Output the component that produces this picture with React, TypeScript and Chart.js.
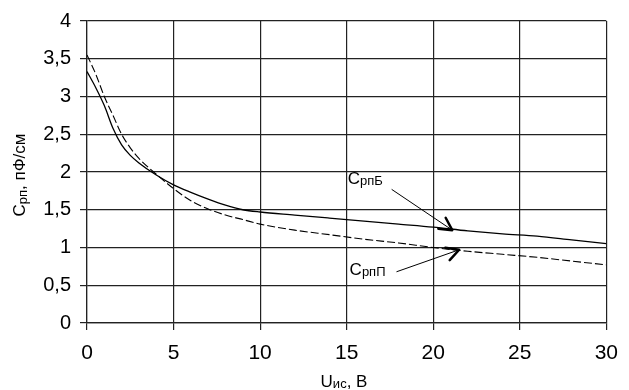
import React, { useEffect, useRef } from "react";
import { Chart, registerables } from "chart.js";

Chart.register(...registerables);

// Voltage U_ис, В
const uValues = [0, 0.5, 1, 1.5, 2, 2.5, 3, 4, 5, 6, 7, 8, 9, 10, 12, 14, 16, 18, 20, 22, 24, 26, 28, 30];
// С_рпБ (solid)
const cB = [3.33, 3.12, 2.88, 2.58, 2.36, 2.22, 2.12, 1.96, 1.83, 1.73, 1.64, 1.56, 1.5, 1.47, 1.43, 1.39, 1.35, 1.31, 1.27, 1.22, 1.18, 1.15, 1.1, 1.05];
// С_рпП (dashed)
const cP = [3.55, 3.3, 3.0, 2.75, 2.5, 2.32, 2.18, 1.97, 1.78, 1.62, 1.51, 1.43, 1.37, 1.31, 1.23, 1.17, 1.11, 1.06, 1.0, 0.95, 0.91, 0.87, 0.82, 0.77];

const xTicks = [0, 5, 10, 15, 20, 25, 30];
const yTicks = [0, 0.5, 1, 1.5, 2, 2.5, 3, 3.5, 4];

// Annotations
const annoLabels = ["С", "С"];
const annoSubs = ["рпБ", "рпП"];
const annoTextPos = [[15.06, 1.84], [15.17, 0.63]];
const annoLineFrom = [[17.6, 1.77], [17.9, 0.68]];
const annoTip = [[21.1, 1.23], [21.5, 0.97]];

const FONT = "'Liberation Sans', Arial, sans-serif";

const titlesPlugin = {
  id: "titlesAndNotes",
  afterDraw(chart: any) {
    const ctx = chart.ctx as CanvasRenderingContext2D;
    const xs = chart.scales.x;
    const ys = chart.scales.y;
    ctx.save();
    ctx.fillStyle = "#000";
    ctx.textBaseline = "alphabetic";

    // Y title rotated
    const parts: [string, number, number][] = [
      ["С", 17, 0],
      ["рп", 13, 2],
      [", пФ/см", 17, 0],
    ];
    let total = 0;
    parts.forEach(([t, s]) => {
      ctx.font = `${s}px ${FONT}`;
      total += ctx.measureText(t).width;
    });
    ctx.save();
    ctx.translate(25, 175);
    ctx.rotate(-Math.PI / 2);
    let cx = -total / 2;
    parts.forEach(([t, s, dy]) => {
      ctx.font = `${s}px ${FONT}`;
      ctx.fillText(t, cx, dy);
      cx += ctx.measureText(t).width;
    });
    ctx.restore();

    // X title
    const xparts: [string, number, number][] = [
      ["U", 17, 0],
      ["ис", 13, 1],
      [", В", 17, 0],
    ];
    total = 0;
    xparts.forEach(([t, s]) => {
      ctx.font = `${s}px ${FONT}`;
      total += ctx.measureText(t).width;
    });
    cx = 344 - total / 2;
    xparts.forEach(([t, s, dy]) => {
      ctx.font = `${s}px ${FONT}`;
      ctx.fillText(t, cx, 387 + dy);
      cx += ctx.measureText(t).width;
    });

    // Annotations
    for (let i = 0; i < annoLabels.length; i++) {
      const lx = xs.getPixelForValue(annoTextPos[i][0]);
      const ly = ys.getPixelForValue(annoTextPos[i][1]);
      ctx.font = `17px ${FONT}`;
      ctx.fillText(annoLabels[i], lx, ly);
      const w = ctx.measureText(annoLabels[i]).width;
      ctx.font = `13px ${FONT}`;
      ctx.fillText(annoSubs[i], lx + w, ly + 1);

      const fx = xs.getPixelForValue(annoLineFrom[i][0]);
      const fy = ys.getPixelForValue(annoLineFrom[i][1]);
      const tx = xs.getPixelForValue(annoTip[i][0]);
      const ty = ys.getPixelForValue(annoTip[i][1]);
      ctx.strokeStyle = "#000";
      ctx.lineWidth = 1;
      ctx.beginPath();
      ctx.moveTo(fx, fy);
      ctx.lineTo(tx, ty);
      ctx.stroke();
      const ang = Math.atan2(fy - ty, fx - tx);
      const L = 14;
      const spread = (28 * Math.PI) / 180;
      ctx.lineWidth = 2.5;
      ctx.lineCap = "round";
      ctx.lineJoin = "round";
      ctx.beginPath();
      ctx.moveTo(tx + L * Math.cos(ang + spread), ty + L * Math.sin(ang + spread));
      ctx.lineTo(tx, ty);
      ctx.lineTo(tx + L * Math.cos(ang - spread), ty + L * Math.sin(ang - spread));
      ctx.stroke();
    }
    ctx.restore();
  },
};

export default function App() {
  const ref = useRef<HTMLCanvasElement | null>(null);
  useEffect(() => {
    if (!ref.current) return;
    const chart = new Chart(ref.current, {
      type: "line",
      data: {
        datasets: [
          {
            label: "СрпБ",
            data: uValues.map((u, i) => ({ x: u, y: cB[i] })),
            borderColor: "#000",
            borderWidth: 1.3,
            pointRadius: 0,
            cubicInterpolationMode: "monotone",
            fill: false,
          },
          {
            label: "СрпП",
            data: uValues.map((u, i) => ({ x: u, y: cP[i] })),
            borderColor: "#000",
            borderWidth: 1.1,
            borderDash: [8, 3],
            pointRadius: 0,
            cubicInterpolationMode: "monotone",
            fill: false,
          },
        ],
      },
      options: {
        responsive: false,
        animation: false,
        layout: { padding: { top: 18, right: 22, left: 0, bottom: 0 } },
        plugins: { legend: { display: false }, tooltip: { enabled: false } },
        scales: {
          x: {
            type: "linear",
            min: 0,
            max: 30,
            afterBuildTicks: (s: any) => {
              s.ticks = xTicks.map((v) => ({ value: v }));
            },
            afterFit: (s: any) => {
              s.height = 67;
            },
            ticks: { color: "#000", font: { family: FONT, size: 21 }, padding: 11, maxRotation: 0 },
            grid: { color: "#222", lineWidth: 1.2, tickLength: 7 },
            border: { color: "#222", width: 1.2 },
          },
          y: {
            type: "linear",
            min: 0,
            max: 4,
            afterBuildTicks: (s: any) => {
              s.ticks = yTicks.map((v) => ({ value: v }));
            },
            afterFit: (s: any) => {
              s.width = 87;
            },
            ticks: {
              color: "#000",
              font: { family: FONT, size: 20 },
              padding: 9,
              callback: (v: any) => String(v).replace(".", ","),
            },
            grid: { color: "#222", lineWidth: 1.2, tickLength: 7 },
            border: { color: "#222", width: 1.2 },
          },
        },
      },
      plugins: [titlesPlugin],
    } as any);
    return () => chart.destroy();
  }, []);
  return (
    <div style={{ position: "absolute", left: 0, top: 0, width: 629, height: 390, background: "#fff" }}>
      <canvas ref={ref} width={629} height={390} />
    </div>
  );
}
